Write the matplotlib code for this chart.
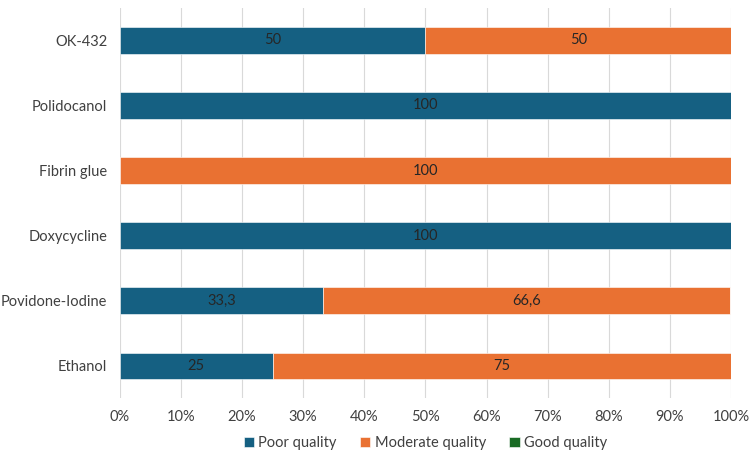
import matplotlib.pyplot as plt
import numpy as np
from matplotlib.ticker import PercentFormatter

plt.rcParams['font.family'] = ['Lato', 'DejaVu Sans']

treatments = ['OK-432', 'Polidocanol', 'Fibrin glue', 'Doxycycline',
              'Povidone-Iodine', 'Ethanol']
poor = [50, 100, 0, 100, 33.3, 25]
moderate = [50, 0, 100, 0, 66.6, 75]
good = [0, 0, 0, 0, 0, 0]
poor_labels = ['50', '100', '', '100', '33,3', '25']
moderate_labels = ['50', '', '100', '', '66,6', '75']

series = [('Poor quality', poor, poor_labels, '#156082'),
          ('Moderate quality', moderate, moderate_labels, '#E97132'),
          ('Good quality', good, None, '#196B24')]

fig, ax = plt.subplots(figsize=(7.49, 4.58), dpi=100)
fig.subplots_adjust(left=0.16, right=0.976, top=0.983, bottom=0.13)

y = np.arange(len(treatments))
left = np.zeros(len(treatments))
for name, vals, labels, color in series:
    vals = np.array(vals, dtype=float)
    bars = ax.barh(y, vals, left=left, height=0.41, color=color, label=name,
                   edgecolor='white', linewidth=0.4)
    if labels is not None:
        ax.bar_label(bars, labels=labels, label_type='center',
                     color='#262626', fontsize=10.5)
    left += vals

ax.set_ylim(len(treatments) - 0.5, -0.5)
ax.set_xlim(0, 100)
ax.set_yticks(y, treatments)
ax.set_xticks(np.arange(0, 101, 10))
ax.xaxis.set_major_formatter(PercentFormatter(decimals=0))
ax.tick_params(length=0, labelsize=10.5, labelcolor='#404040', pad=9)
ax.tick_params(axis='x', pad=8)
ax.grid(axis='x', color='#d9d9d9', linewidth=0.8)
ax.set_axisbelow(True)
for s in ax.spines.values():
    s.set_visible(False)

ax.legend(loc='upper center', bbox_to_anchor=(0.5, -0.062), ncol=3,
          frameon=False, fontsize=10.5, handlelength=0.7, handleheight=0.7,
          handletextpad=0.3, columnspacing=1.6, labelcolor='#404040')

fig.savefig('out.png')
